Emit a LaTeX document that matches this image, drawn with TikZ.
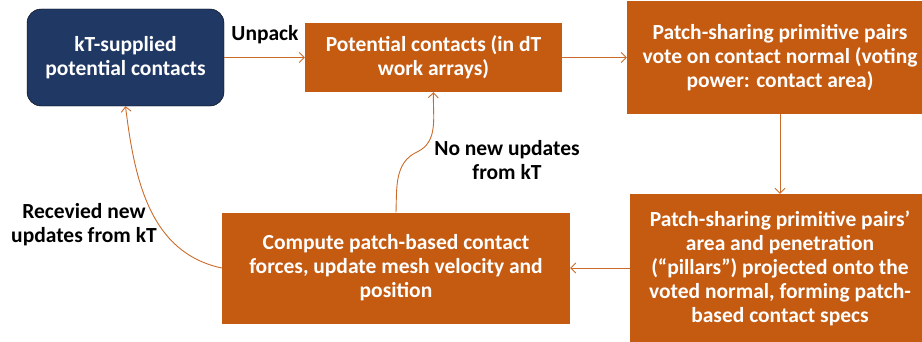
\documentclass[tikz,border=0pt]{standalone}
\usepackage{fontspec}
\setmainfont{Carlito}
\usetikzlibrary{arrows.meta}
\definecolor{rust}{HTML}{C55A11}
\definecolor{navy}{HTML}{203864}
\begin{document}
\begin{tikzpicture}[x=1pt,y=1pt,font=\bfseries\fontsize{21.5}{24}\selectfont,
  box/.style={fill=rust,text=white,align=center,inner sep=0pt},
  flow/.style={draw=rust!90,line width=0.9pt,-{Straight Barb[length=5pt,width=10pt]}}]
\useasboundingbox (0,0) rectangle (922,341);
\node[box,fill=navy,draw=black,rounded corners=14pt,minimum width=197,minimum height=97] (kt) at (125.5,283.5) {kT-supplied\\potential contacts};
\node[box,minimum width=257,minimum height=69] (pot) at (433.5,283.5) {Potential contacts (in dT\\work arrays)};
\node[box,minimum width=306,minimum height=112] (vote) at (780,283.5) {Patch-sharing primitive pairs\\vote on contact normal (voting\\power: contact area)};
\node[box,minimum width=300,minimum height=148] (pillar) at (780,73) {Patch-sharing primitive pairs’\\area and penetration\\(“pillars”) projected onto the\\voted normal, forming patch-\\based contact specs};
\node[box,minimum width=348,minimum height=111] (comp) at (396,73) {Compute patch-based contact\\forces, update mesh velocity and\\position};
\node (unpack) at (265,306) {Unpack};
\node[align=center] (recv) at (84,116) {Recevied new\\updates from kT};
\node[align=center] (nonew) at (507,181) {No new updates\\from kT};
\coordinate (kink) at (417,189);
\draw[flow] (kt.east) -- (pot.west);
\draw[flow] (pot.east) -- (vote.west);
\draw[flow] (vote.south) -- (pillar.north);
\draw[flow] (pillar.west) -- (comp.east);
\draw[flow] (comp.west) to[out=168,in=277] (kt.south);
\draw[flow] (comp.north) to[out=88,in=205] (kink) to[out=25,in=268] (pot.south);
\end{tikzpicture}
\end{document}
